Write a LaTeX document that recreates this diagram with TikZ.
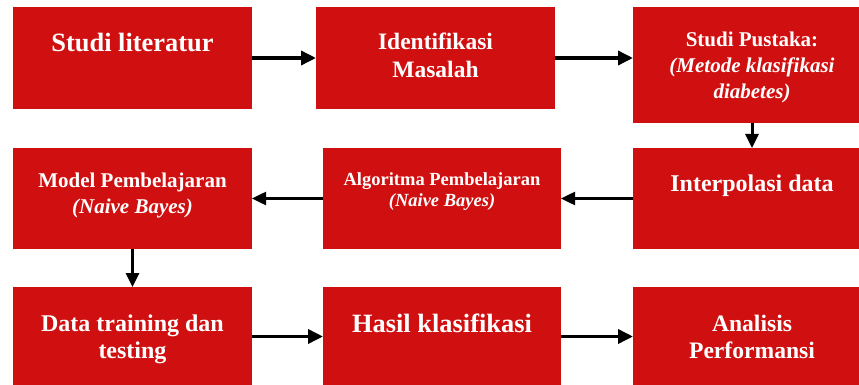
\documentclass[tikz,border=0pt]{standalone}
\usepackage{fontspec}
\setmainfont{Liberation Serif}
\usetikzlibrary{arrows.meta}
\definecolor{boxred}{RGB}{208,16,16}
\begin{document}
\begin{tikzpicture}[x=1pt,y=-1pt,
  box/.style={fill=boxred, draw=none, inner sep=0pt, outer sep=0pt, anchor=north west, minimum width=238pt},
  txt/.style={text=white, align=center, inner sep=0pt, anchor=base},
  bigarrow/.style={-{Triangle[length=15pt,width=14pt]}, line width=3.5pt},
  midarrow/.style={-{Triangle[length=14pt,width=13pt]}, line width=2.5pt}]
\useasboundingbox (0,0) rectangle (859,385);
\clip (0,0) rectangle (859,385);
% boxes
\node[box, minimum width=239pt, minimum height=102pt] (b1) at (13,7) {};
\node[box, minimum width=239pt, minimum height=102pt] (b2) at (316,7) {};
\node[box, minimum height=116pt] (b3) at (633,7) {};
\node[box, minimum width=239pt, minimum height=101pt] (b4) at (13,148) {};
\node[box, minimum height=101pt] (b5) at (323,148) {};
\node[box, minimum height=101pt] (b6) at (633,148) {};
\node[box, minimum width=239pt, minimum height=99pt] (b7) at (13,287) {};
\node[box, minimum height=99pt] (b8) at (323,287) {};
\node[box, minimum height=99pt] (b9) at (633,287) {};
% texts (anchor = baseline of last line)
\node[txt, font=\fontsize{26.4}{30}\selectfont\bfseries] (t1) at (132.5,52) {Studi literatur};
\node[txt, font=\fontsize{23.5}{28}\selectfont\bfseries] (t2) at (435.5,78) {Identifikasi\\Masalah};
\node[txt, font=\fontsize{21}{26}\selectfont\bfseries] (t3) at (752,99) {Studi Pustaka:\\\textit{(Metode klasifikasi}\\\textit{diabetes)}};
\node[txt, font=\fontsize{21}{26}\selectfont\bfseries] (t4) at (132.5,213) {Model Pembelajaran\\\textit{(Naive Bayes)}};
\node[txt, font=\fontsize{18.5}{21}\selectfont\bfseries] (t5) at (442,206) {Algoritma Pembelajaran\\\textit{(Naive Bayes)}};
\node[txt, font=\fontsize{24}{28}\selectfont\bfseries] (t6) at (752,191) {Interpolasi data};
\node[txt, font=\fontsize{24}{27}\selectfont\bfseries] (t7) at (132.5,358) {Data training dan\\testing};
\node[txt, font=\fontsize{26.4}{30}\selectfont\bfseries] (t8) at (442,332) {Hasil klasifikasi};
\node[txt, font=\fontsize{23.6}{27}\selectfont\bfseries] (t9) at (752,358) {Analisis\\Performansi};
% arrows
\draw[bigarrow] (b1.east) -- (b2.west);
\draw[bigarrow] (b2.east) -- (b2.east -| b3.west);
\draw[midarrow, line width=3pt] (b3.south) -- (b6.north);
\draw[midarrow] (b6.west) -- (b5.east);
\draw[midarrow] (b5.west) -- (b4.east);
\draw[midarrow, line width=3pt] (b4.south) -- (b7.north);
\draw[bigarrow] (b7.east) -- (b8.west);
\draw[bigarrow] (b8.east) -- (b9.west);
\end{tikzpicture}
\end{document}
